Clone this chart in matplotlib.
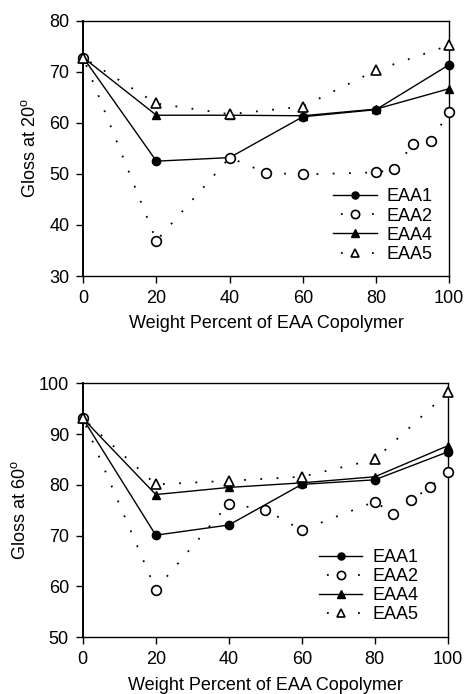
import matplotlib
matplotlib.use("Agg")
import matplotlib.pyplot as plt
from matplotlib.lines import Line2D

plt.rcParams['font.family'] = ['Liberation Sans', 'DejaVu Sans']
plt.rcParams['mathtext.fontset'] = 'custom'
plt.rcParams['mathtext.rm'] = 'Liberation Sans'

# Copolymer loading (wt %)
x_main = [0, 20, 40, 60, 80, 100]
x_eaa2 = [0, 20, 40, 50, 60, 80, 85, 90, 95, 100]

# Gloss at 20 degrees
eaa1_20 = [72.8, 52.5, 53.2, 61.2, 62.6, 71.4]
eaa2_20 = [72.8, 36.9, 53.2, 50.2, 49.9, 50.3, 50.9, 55.8, 56.4, 62.2]
eaa4_20 = [72.8, 61.5, 61.5, 61.4, 62.7, 66.7]
eaa5_20 = [72.8, 63.8, 61.7, 63.2, 70.3, 75.2]

# Gloss at 60 degrees
eaa1_60 = [93.1, 70.1, 72.1, 80.1, 81.0, 86.5]
eaa2_60 = [93.1, 59.4, 76.3, 75.1, 71.1, 76.7, 74.3, 77.0, 79.5, 82.5]
eaa4_60 = [93.1, 78.1, 79.5, 80.4, 81.6, 87.7]
eaa5_60 = [93.1, 80.1, 80.8, 81.6, 85.0, 98.2]

labels = ["EAA1", "EAA2", "EAA4", "EAA5"]
x_ticks = [0, 20, 40, 60, 80, 100]

FS = 13
dotted = (4.5, (1, 8))
# sparser dot pattern for the legend keys: one dot either side of the marker
legend_dotted = (12.8, (1, 16.2))

solid_style = dict(color='black', lw=1.0, ms=6, mfc='black', mec='black')
open_style = dict(color='black', lw=1.3, ms=7, mfc='white', mec='black',
                  mew=1.2)

fig = plt.figure(figsize=(4.65, 6.94), dpi=100)
ax_top = fig.add_axes([0.179, 0.6023, 0.787, 0.3677])
ax_bot = fig.add_axes([0.178, 0.0817, 0.785, 0.3660])


def draw(ax, s1, s2, s4, s5, ylim, yticks, ylabel, leg_anchor):
    ax.plot(x_main, s1, marker='o', clip_on=False, zorder=3, **solid_style)
    ax.plot(x_eaa2, s2, ls=dotted, marker='o', clip_on=False, zorder=4,
            **open_style)
    ax.plot(x_main, s4, marker='^', clip_on=False, zorder=3, **solid_style)
    ax.plot(x_main, s5, ls=dotted, marker='^', clip_on=False, zorder=4,
            **open_style)
    ax.set_xlim(0, 100)
    ax.set_ylim(*ylim)
    ax.set_xticks(x_ticks)
    ax.set_yticks(yticks)
    ax.tick_params(axis='both', direction='out', length=5, width=1.0,
                   pad=5, labelsize=FS, colors='black')
    for sp in ax.spines.values():
        sp.set_linewidth(1.0)
    ax.spines['left'].set_linewidth(1.4)
    ax.set_xlabel("Weight Percent of EAA Copolymer", fontsize=FS, labelpad=6)
    ax.set_ylabel(ylabel, fontsize=FS, labelpad=7)

    keys = [
        Line2D([], [], marker='o', **solid_style),
        Line2D([], [], marker='o', ls=legend_dotted, **open_style),
        Line2D([], [], marker='^', **solid_style),
        Line2D([], [], marker='^', ls=legend_dotted, **open_style),
    ]
    ax.legend(keys, labels, loc='upper left', bbox_to_anchor=leg_anchor,
              frameon=False, fontsize=FS, handlelength=2.4,
              handletextpad=0.55, labelspacing=0.12, borderaxespad=0,
              borderpad=0, markerscale=0.85)


draw(ax_top, eaa1_20, eaa2_20, eaa4_20, eaa5_20, (30, 80),
     [30, 40, 50, 60, 70, 80], "Gloss at 20$^{\\rm o}$", (0.683, 0.343))
draw(ax_bot, eaa1_60, eaa2_60, eaa4_60, eaa5_60, (50, 100),
     [50, 60, 70, 80, 90, 100], "Gloss at 60$^{\\rm o}$", (0.647, 0.348))

fig.savefig("out.png", dpi=100)
